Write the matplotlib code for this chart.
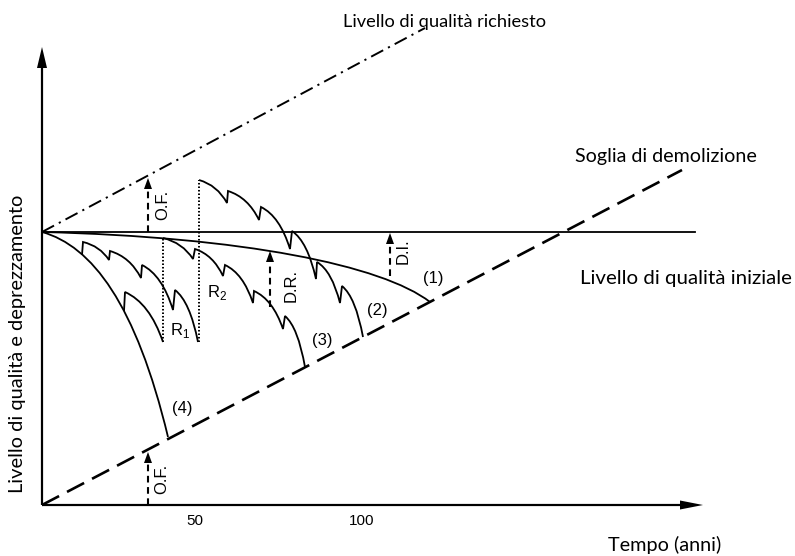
import matplotlib
matplotlib.use('Agg')
import matplotlib.pyplot as plt
from matplotlib.path import Path
from matplotlib.patches import PathPatch, FancyArrow

# ---------------- data (schematic units: x = time, y = quality level) ----------------
x_tick_pos = [153, 320]
x_tick_labels = ['50', '100']

initial_level_x = [0, 653]
initial_level_y = [273, 273]

required_x = [0, 383]
required_y = [273, 477]

demolition_x = [0, 640]
demolition_y = [0, 335]

# Bezier control points of the smooth curves
curve1_x = [0, 200, 340, 388]
curve1_y = [273, 268, 240, 203]
curve4_x = [0, 50, 94, 126]
curve4_y = [273, 259, 201, 68]

# saw-tooth curves: arc ends and jump tops
sawA_x = [40, 41, 67, 68, 99, 100, 131, 133, 156]
sawA_y = [250, 263, 245, 254, 227, 240, 195, 215, 163]

branchB_x = [82, 83, 121]
branchB_y = [194, 213, 163]

curve3_x = [121, 151, 153, 181, 183, 211, 212, 241, 243, 263]
curve3_y = [267, 246, 256, 229, 240, 202, 214, 176, 189, 138]

curve2_x = [157, 185, 186, 217, 219, 248, 250, 274, 275, 298, 300, 321]
curve2_y = [325, 302, 314, 285, 298, 256, 274, 226, 243, 202, 219, 168]

r1_x = [121, 121]
r1_y = [163, 267]
r2_x = [157, 157]
r2_y = [163, 325]

arrow_labels = ['O.F.', 'O.F.', 'D.R.', 'D.I.']
arrow_x = [106, 106, 228, 348]
arrow_from = [273, 0, 198, 229]
arrow_to = [327, 53, 254, 272]

curve_labels = ['(1)', '(2)', '(3)', '(4)']

# ---------------- figure ----------------
W, H = 795, 556
fig = plt.figure(figsize=(W / 100, H / 100), dpi=100)
ax = fig.add_axes([0, 0, 1, 1])
ax.set_xlim(-42, W - 42)
ax.set_ylim(-51, H - 51)
ax.axis('off')

K = 'black'
BIG = ['Lato', 'DejaVu Sans']
SMALL = ['Liberation Sans', 'DejaVu Sans']
LW = 1.3


def bezier(xs, ys, lw=LW):
    verts = list(zip(xs, ys))
    codes = [Path.MOVETO, Path.CURVE4, Path.CURVE4, Path.CURVE4]
    ax.add_patch(PathPatch(Path(verts, codes), fill=False, lw=lw, color=K))


def saw(xs, ys, lw=LW, bend=(0.65, 0.22)):
    verts = [(xs[0], ys[0])]
    codes = [Path.MOVETO]
    for x0, y0, x1, y1 in zip(xs[:-1], ys[:-1], xs[1:], ys[1:]):
        if abs(x1 - x0) < 3:
            verts.append((x1, y1))
            codes.append(Path.LINETO)
        else:
            verts += [(x0 + bend[0] * (x1 - x0), y0 + bend[1] * (y1 - y0)), (x1, y1)]
            codes += [Path.CURVE3, Path.CURVE3]
    ax.add_patch(PathPatch(Path(verts, codes), fill=False, lw=lw, color=K,
                           joinstyle='miter'))


# axes with arrows
ax.add_patch(FancyArrow(0, 0, 661, 0, width=2.2, head_width=9, head_length=23,
                        length_includes_head=True, color=K, lw=0))
ax.add_patch(FancyArrow(0, 0, 0, 458, width=2.2, head_width=10, head_length=21,
                        length_includes_head=True, color=K, lw=0))

# reference lines
ax.plot(initial_level_x, initial_level_y, color=K, lw=1.3)
ax.plot(required_x, required_y, color=K, lw=1.4,
        linestyle=(0, (7, 2.8, 1.1, 2.8)))
ax.plot(demolition_x, demolition_y, color=K, lw=1.9,
        linestyle=(0, (7.3, 3.4)))

# curves
bezier(curve1_x, curve1_y)
bezier(curve4_x, curve4_y)
saw(sawA_x, sawA_y)
saw(branchB_x, branchB_y)
saw(curve3_x, curve3_y)
saw(curve2_x, curve2_y)

ax.plot(r1_x, r1_y, color=K, lw=1.4, linestyle=(0, (0.8, 1.0)))
ax.plot(r2_x, r2_y, color=K, lw=1.4, linestyle=(0, (0.8, 1.0)))

# dashed arrows
for x, y0, y1 in zip(arrow_x, arrow_from, arrow_to):
    ax.plot([x, x], [y0, y1 - 9], color=K, lw=1.5, linestyle=(0, (3.2, 2.2)))
    ax.add_patch(FancyArrow(x, y1 - 11, 0, 11, width=0.01, head_width=8, head_length=11,
                            length_includes_head=True, color=K, lw=0))

# small labels
small_pos = [(121, 300), (120, 26), (249, 220), (361, 254)]
for lab, (x, y) in zip(arrow_labels, small_pos):
    ax.text(x, y, lab, rotation=90, ha='center', va='center', fontsize=12,
            family=SMALL, color=K)

curve_label_pos = [(391, 226), (335, 195), (280, 164), (140, 97)]
for lab, (x, y) in zip(curve_labels, curve_label_pos):
    ax.text(x, y, lab, ha='center', va='center', fontsize=12, family=SMALL, color=K)

ax.text(138, 175, r'R$_\mathregular{1}$', ha='center', va='center', fontsize=12,
        family=SMALL, color=K)
ax.text(175, 212, r'R$_\mathregular{2}$', ha='center', va='center', fontsize=12,
        family=SMALL, color=K)

for pos, lab in zip(x_tick_pos, x_tick_labels):
    ax.text(pos, -16, lab, ha='center', va='center', fontsize=11, family=SMALL, color=K)

# big labels, fitted to target widths (px)
big = [
    ('Livello di qualità richiesto', 301, 478, 204),
    ('Soglia di demolizione', 533, 343, 182),
    ('Livello di qualità iniziale', 538, 221, 213),
    ('Tempo (anni)', 566, -46, 114),
]
texts = []
for s, x, y, w in big:
    t = ax.text(x, y, s, ha='left', va='baseline', fontsize=14, family=BIG, color=K)
    texts.append((t, w))
ylab = ax.text(-24, 161, 'Livello di qualità e deprezzamento', rotation=90,
               ha='center', va='center', fontsize=14, family=BIG, color=K)
texts.append((ylab, 300))

fig.canvas.draw()
rend = fig.canvas.get_renderer()
for t, w in texts:
    bb = t.get_window_extent(rend)
    cur = bb.height if t.get_rotation() == 90 else bb.width
    t.set_fontsize(t.get_fontsize() * w / cur)

fig.savefig('out.png', dpi=100)
